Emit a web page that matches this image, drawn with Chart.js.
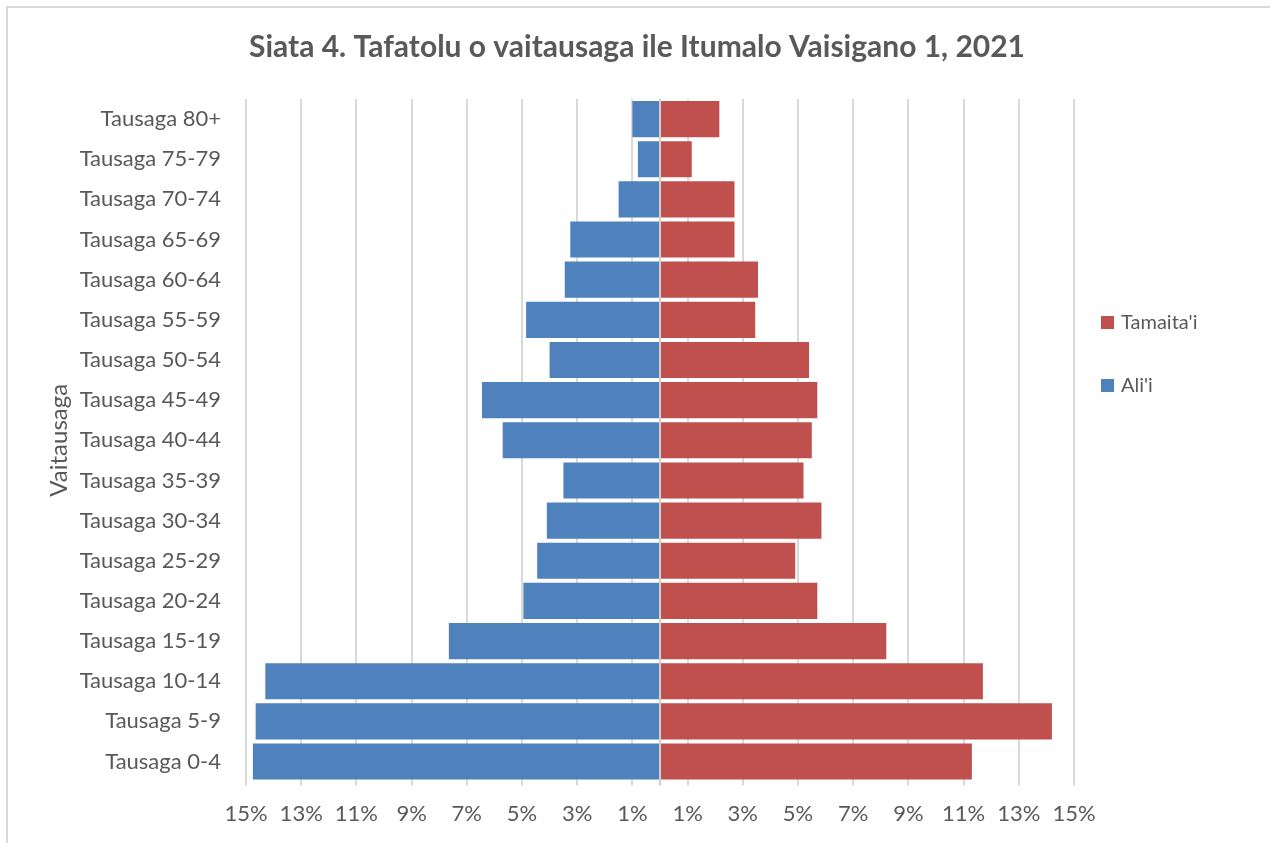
<!DOCTYPE html>
<html>
<head>
<meta charset="utf-8">
<title>Siata 4</title>
<script src="https://cdn.jsdelivr.net/npm/chart.js@4.4.1/dist/chart.umd.min.js"></script>
<style>
  html, body { margin: 0; padding: 0; background: #fff; }
  #frame {
    position: absolute; left: 6px; top: 6px; width: 1280px; height: 860px;
    border: 2px solid #d9d9d9; box-sizing: border-box;
  }
  #wrap { position: absolute; left: 0; top: 0; width: 1270px; height: 843px; }
</style>
</head>
<body>
<div id="frame"></div>
<div id="wrap"><canvas id="pyramid"></canvas></div>
<script>
// Vaitausaga (top row first)
const AGE_GROUPS = [
  'Tausaga 80+', 'Tausaga 75-79', 'Tausaga 70-74', 'Tausaga 65-69',
  'Tausaga 60-64', 'Tausaga 55-59', 'Tausaga 50-54', 'Tausaga 45-49',
  'Tausaga 40-44', 'Tausaga 35-39', 'Tausaga 30-34', 'Tausaga 25-29',
  'Tausaga 20-24', 'Tausaga 15-19', 'Tausaga 10-14', 'Tausaga 5-9',
  'Tausaga 0-4'
];

// percent of population, same row order
const ALII = [1.0, 0.8, 1.5, 3.25, 3.45, 4.85, 4.0, 6.45, 5.7, 3.5, 4.1, 4.45, 4.95, 7.65, 14.3, 14.65, 14.75];
const TAMAITAI = [2.15, 1.15, 2.7, 2.7, 3.55, 3.45, 5.4, 5.7, 5.5, 5.2, 5.85, 4.9, 5.7, 8.2, 11.7, 14.2, 11.3];

const X_TICKS = [-15, -13, -11, -9, -7, -5, -3, -1, 1, 3, 5, 7, 9, 11, 13, 15];

const FONT = 'Lato, "Open Sans", sans-serif';
const GREY_TEXT = '#595959';
const GRID = '#d9d9d9';

// vertical line at 0 between the two sides
const zeroLine = {
  id: 'zeroLine',
  afterDatasetsDraw(chart) {
    const x = Math.round(chart.scales.x.getPixelForValue(0));
    const area = chart.chartArea;
    const ctx = chart.ctx;
    ctx.save();
    ctx.strokeStyle = '#d0d0d0';
    ctx.lineWidth = 2;
    ctx.beginPath();
    ctx.moveTo(x, area.top);
    ctx.lineTo(x, area.bottom + 4);
    ctx.stroke();
    ctx.restore();
  }
};

// legend drawn at the right, Tamaita'i first like the original
const sideLegend = {
  id: 'sideLegend',
  afterDraw(chart) {
    const ctx = chart.ctx;
    const items = [chart.data.datasets[1], chart.data.datasets[0]];
    ctx.save();
    ctx.font = '20px ' + FONT;
    ctx.textBaseline = 'middle';
    items.forEach((ds, i) => {
      const y = 322 + i * 63;
      ctx.fillStyle = ds.backgroundColor;
      ctx.fillRect(1101, y - 6, 13, 13);
      ctx.fillStyle = GREY_TEXT;
      ctx.fillText(ds.label, 1121, y + 1);
    });
    ctx.restore();
  }
};

new Chart(document.getElementById('pyramid'), {
  type: 'bar',
  data: {
    labels: AGE_GROUPS,
    datasets: [
      {
        label: "Ali'i",
        data: ALII.map((v) => -v),
        backgroundColor: '#4f81bd',
        barPercentage: 0.9,
        categoryPercentage: 1
      },
      {
        label: "Tamaita'i",
        data: TAMAITAI,
        backgroundColor: '#c0504d',
        barPercentage: 0.9,
        categoryPercentage: 1
      }
    ]
  },
  options: {
    indexAxis: 'y',
    responsive: true,
    maintainAspectRatio: false,
    animation: false,
    layout: { padding: { top: 29, left: 42, right: 38, bottom: 1 } },
    plugins: {
      legend: { display: false },
      tooltip: { enabled: false },
      title: {
        display: true,
        text: 'Siata 4. Tafatolu o vaitausaga ile Itumalo Vaisigano 1, 2021',
        color: GREY_TEXT,
        font: { family: FONT, size: 30, weight: 'bold' },
        padding: { top: 0, bottom: 34 }
      }
    },
    scales: {
      x: {
        stacked: true,
        min: -15,
        max: 15,
        afterBuildTicks: (scale) => { scale.ticks = X_TICKS.map((v) => ({ value: v })); },
        ticks: {
          color: GREY_TEXT,
          font: { family: FONT, size: 22 },
          padding: 15,
          maxRotation: 0,
          autoSkip: false,
          callback: (v) => Math.abs(v) + '%'
        },
        grid: { color: GRID, lineWidth: 2, tickLength: 4 },
        border: { display: false }
      },
      y: {
        stacked: true,
        afterFit: (scale) => { scale.width = 204; },
        ticks: {
          color: GREY_TEXT,
          font: { family: FONT, size: 22 },
          padding: 17,
          autoSkip: false
        },
        grid: { display: false },
        border: { display: false },
        title: {
          display: true,
          text: 'Vaitausaga',
          color: GREY_TEXT,
          font: { family: FONT, size: 24 },
          padding: { top: 3, bottom: 0 }
        }
      },
      // empty axis on the right keeps room for the legend
      yRight: {
        type: 'category',
        position: 'right',
        afterFit: (scale) => { scale.width = 158; },
        ticks: { display: false },
        grid: { display: false },
        border: { display: false }
      }
    }
  },
  plugins: [zeroLine, sideLegend]
});
</script>
</body>
</html>
